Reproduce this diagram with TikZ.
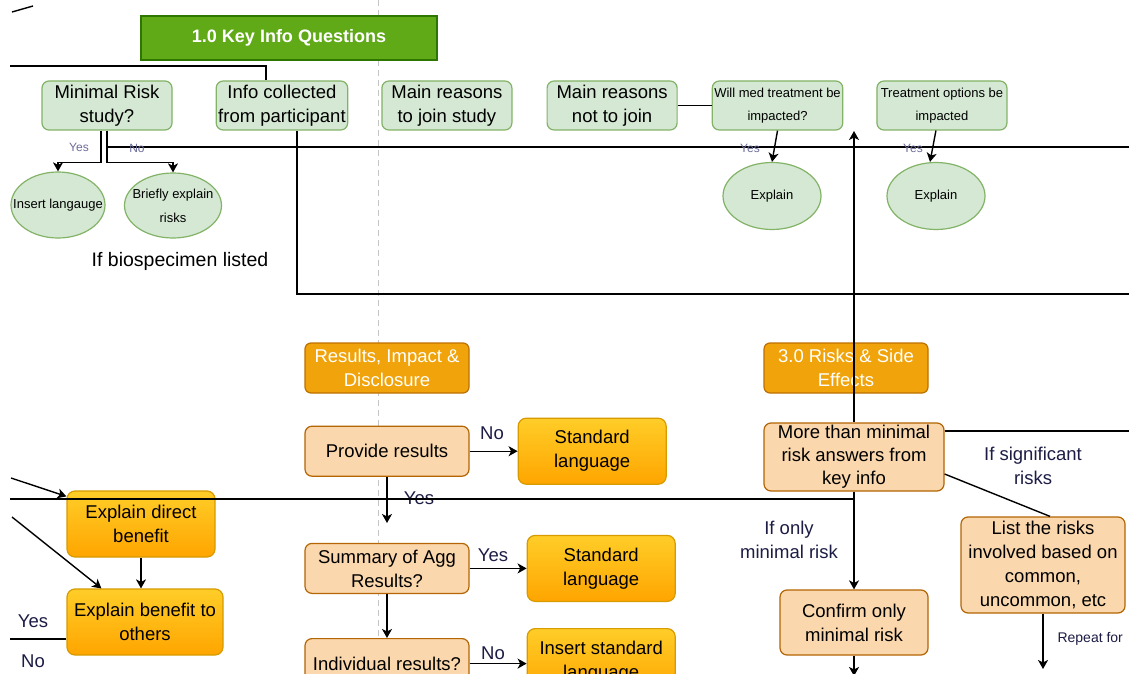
\documentclass[tikz,border=0pt]{standalone}
\usepackage{fontspec}
\setmainfont{Liberation Sans}
\usepackage{xcolor}
\usetikzlibrary{arrows.meta,positioning,shapes.geometric}

\definecolor{keygreen}{HTML}{60A917}
\definecolor{keyedge}{HTML}{2D7600}
\definecolor{leaf}{HTML}{D5E8D4}
\definecolor{leafedge}{HTML}{82B366}
\definecolor{secfill}{HTML}{F0A30A}
\definecolor{secedge}{HTML}{BD7000}
\definecolor{askfill}{HTML}{FAD7AC}
\definecolor{askedge}{HTML}{B46504}
\definecolor{stdtop}{HTML}{FFCD28}
\definecolor{stdbot}{HTML}{FFA500}
\definecolor{stdedge}{HTML}{D79B00}
\definecolor{tagblue}{HTML}{1C1C44}
\definecolor{ynpurple}{HTML}{6B6B9A}
\definecolor{guidegray}{HTML}{C4C4C4}

\newcommand\boxfont{\fontsize{18.5}{24}\selectfont}
\newcommand\smallfont{\fontsize{13}{23}\selectfont}

\begin{document}
\begin{tikzpicture}[x=1pt,y=-1pt,
    keyhead/.style={draw=keyedge,fill=keygreen,line width=1.2pt,minimum width=296pt,
      minimum height=44pt,text=white,font=\bfseries\fontsize{18}{22}\selectfont},
    keybox/.style={draw=leafedge,fill=leaf,rounded corners=7pt,line width=1.2pt,
      minimum width=130pt,minimum height=49pt,inner sep=2pt,align=center,font=\boxfont},
    keysmall/.style={keybox,font=\smallfont},
    keyoval/.style={ellipse,draw=leafedge,fill=leaf,line width=1.2pt,inner sep=0pt,
      align=center,font=\smallfont},
    ovaltext/.style={align=center,font=\fontsize{13}{24}\selectfont,inner sep=0pt},
    sechead/.style={draw=secedge,fill=secfill,rounded corners=6pt,line width=1.2pt,
      minimum width=164pt,minimum height=50pt,inner sep=2pt,align=center,text=white,font=\boxfont},
    askbox/.style={draw=askedge,fill=askfill,rounded corners=7pt,line width=1.2pt,
      minimum width=164pt,minimum height=50pt,inner sep=2pt,align=center,font=\boxfont},
    stdbox/.style={draw=stdedge,top color=stdtop,bottom color=stdbot,rounded corners=8pt,
      line width=1.2pt,minimum width=148pt,minimum height=66pt,inner sep=2pt,align=center,font=\boxfont},
    flow/.style={-{Stealth[length=9pt,width=10pt,inset=2.5pt]},line width=1.4pt},
    wire/.style={line width=1.4pt},
    guide/.style={guidegray,line width=1pt,dash pattern=on 6pt off 4pt},
    tag/.style={text=tagblue,align=center,font=\boxfont},
    yn/.style={text=ynpurple,font=\fontsize{12}{14}\selectfont}
  ]
    \useasboundingbox (0,0) rectangle (1129,674);
    \fill[white] (0,0) rectangle (1129,674);

    % dashed guide behind everything
    \coordinate (dashtop) at (378,0);
    \coordinate (dashbot) at (378,674);
    \draw[guide] (dashtop) -- (dashbot);

    % 1.0 key info row
    \node[keyhead] (keyq) at (289,38) {1.0 Key Info Questions};
    \node[keybox] (minrisk) at (107,105.5) {Minimal Risk\\study?};
    \node[keybox,right=43pt of minrisk] (infocol) {Info collected\\from participant};
    \node[keybox,right=33pt of infocol] (joinwhy) {Main reasons\\to join study};
    \node[keybox,right=34pt of joinwhy] (nojoin) {Main reasons\\not to join};
    \node[keysmall,right=34pt of nojoin] (medq) {Will med treatment be\\impacted?};
    \node[keysmall,right=33pt of medq] (optq) {Treatment options be\\impacted};

    \node[keyoval,minimum width=94pt,minimum height=66pt,
      label={[ovaltext]center:Insert langauge}] (insertlang) at (58,205) {};
    \node[keyoval,minimum width=97pt,minimum height=65pt,
      label={[ovaltext]center:Briefly explain\\risks}] (briefrisk) at (173,205.5) {};
    \node[keyoval,minimum width=98pt,minimum height=67pt] (explainmed) at (772,196) {Explain};
    \node[keyoval,minimum width=98pt,minimum height=67pt] (explainopt) at (936,196) {Explain};
    \node[tag,text=black,font=\fontsize{19.5}{24}\selectfont] (biospec) at (180,261) {If biospecimen listed};

    % results section
    \node[sechead] (reshead) at (387,368) {Results, Impact \&\\Disclosure};
    \node[askbox,below=32pt of reshead] (provide) {Provide results};
    \node[stdbox,right=48pt of provide] (stdone) {Standard\\language};
    \node[askbox,below=66pt of provide] (aggsum) {Summary of Agg\\Results?};
    \node[stdbox,right=57pt of aggsum] (stdtwo) {Standard\\language};
    \node[askbox,below=44pt of aggsum] (indiv) {Individual results?};
    \node[stdbox,right=57pt of indiv,yshift=2pt] (stdthree) {Insert standard\\language};

    % benefits
    \node[stdbox] (directben) at (141,524) {Explain direct\\benefit};
    \node[stdbox,minimum width=156pt] (otherben) at (145,622) {Explain benefit to\\others};

    % 3.0 risks section
    \node[sechead] (riskhead) at (846,368) {3.0 Risks \& Side\\Effects};
    \node[askbox,minimum width=180pt,minimum height=68pt,font=\fontsize{18.5}{23}\selectfont]
      (riskmore) at (854,457) {More than minimal\\risk answers from\\key info};
    \node[askbox,minimum height=96pt] (listrisk) at (1043,565)
      {List the risks\\involved based on\\common,\\uncommon, etc};
    \node[askbox,minimum width=148pt,minimum height=65pt] (confirm) at (854,622.5)
      {Confirm only\\minimal risk};

    \node[tag] (sigtag) at (1033,466) {If significant\\risks};
    \node[tag] (mintag) at (789,540) {If only\\minimal risk};
    \node[text=tagblue,font=\fontsize{14}{16}\selectfont,anchor=west] (repeattag) at (1054,639) {Repeat for};

    % loose ends
    \coordinate (scrapA) at (12,12);
    \coordinate (scrapB) at (33,6);
    \coordinate (topL) at (10,66);
    \coordinate (edgeA) at (1129,147);
    \coordinate (edgeB) at (1129,294);
    \coordinate (uptip) at (854,131);
    \coordinate (edgeC) at (1129,431);
    \coordinate (edgeD) at (10,499);
    \coordinate (edgeE) at (11,478);
    \coordinate (edgeF) at (12,517);
    \coordinate (edgeG) at (10,639);
    \coordinate (provtip) at (387,523);
    \coordinate (listend) at (1043,669);
    \coordinate (confend) at (854,676);

    % top connectors
    \draw[wire] (scrapA) -- (scrapB);
    \draw[wire] (topL) -| ([xshift=-16pt]infocol.north);
    \draw[flow] ([xshift=-6pt]minrisk.south) -- ++(0,32) -| (insertlang.north);
    \draw[flow] (minrisk.south) -- ++(0,32) -| (briefrisk.north);
    \draw[wire] (minrisk.south |- edgeA) -- (edgeA);
    \node[yn] (yesmin) at (79,147) {Yes};
    \node[yn] (nomin) at (137,148) {No};
    \draw[wire] (nojoin) -- (medq);
    \draw[flow] (medq.south) -- (explainmed.north);
    \draw[flow] ([xshift=-6pt]optq.south) -- ([xshift=-6pt]explainopt.north);
    \node[yn] (yesmed) at (750,148) {Yes};
    \node[yn] (yesopt) at (913,148) {Yes};
    \draw[wire] ([xshift=15pt]infocol.south) |- (edgeB);
    \draw[flow] (riskmore.north) -- (uptip);

    % results connectors
    \draw[flow] (provide.east) -- (provide.east -| stdone.west);
    \node[tag] (noprov) at (492,433) {No};
    \draw[flow] (provide) -- (provtip);
    \node[tag] (yesprov) at (419,498) {Yes};
    \draw[flow] (aggsum.east) -- (aggsum.east -| stdtwo.west);
    \node[tag] (yesagg) at (493,555) {Yes};
    \draw[flow] (aggsum) -- (indiv);
    \draw[flow] (indiv.east) -- (indiv.east -| stdthree.west);
    \node[tag] (noindiv) at (493,653) {No};

    % risk connectors
    \draw[flow] (riskmore) -- (confirm);
    \draw[wire] (riskmore.east |- edgeC) -- (edgeC);
    \draw[wire] ([yshift=-17pt]riskmore.east) -- ([xshift=7pt]listrisk.north);
    \draw[flow] (listrisk) -- (listend);
    \draw[flow] (confirm) -- (confend);
    \draw[wire] (riskmore.south) |- (edgeD);

    % benefit connectors
    \draw[flow] (edgeE) -- ([yshift=-6pt]directben.north west);
    \draw[flow] (edgeF) -- ([xshift=35pt]otherben.north west);
    \draw[flow] (directben) -- (directben.south |- otherben.north);
    \draw[wire] (edgeG) -- ([yshift=-17pt]otherben.west);
    \node[tag] (yesoth) at (33,621) {Yes};
    \node[tag] (nooth) at (33,661) {No};
  \end{tikzpicture}
\end{document}
